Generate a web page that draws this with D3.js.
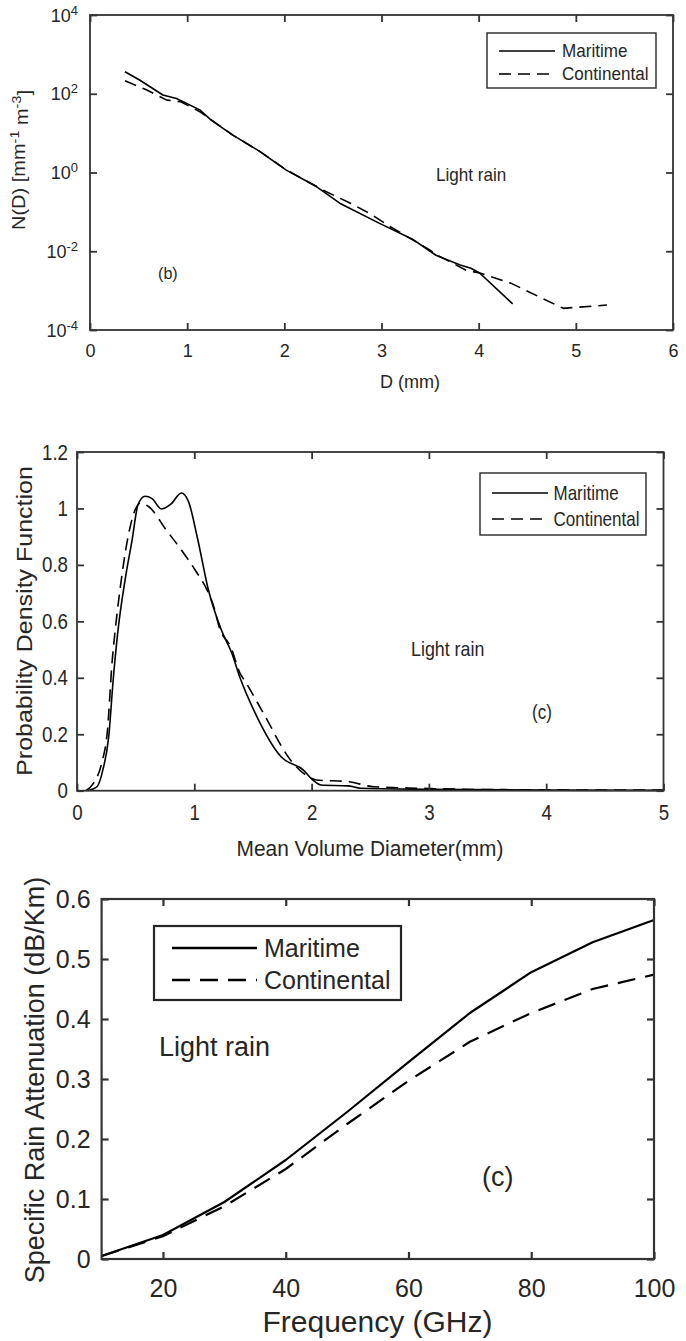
<!DOCTYPE html>
<html>
<head>
<meta charset="utf-8">
<script src="https://cdn.jsdelivr.net/npm/d3@7"></script>
<style>
  body { margin: 0; background: #fff; }
  svg text { font-family: "Liberation Sans", Arial, sans-serif; fill: #262626; }
</style>
</head>
<body>
<div id="chart"></div>
<script>
// (b) drop size distribution, light rain
var dsdDiamMar = [0.36, 0.51, 0.75, 0.89, 1.13, 1.25, 1.47, 1.75, 2.02, 2.33, 2.57, 2.98, 3.33, 3.56, 3.81, 3.92, 4.01, 4.35];
var dsdMaritime = [363, 224, 93, 76, 39, 21, 8.9, 3.4, 1.15, 0.44, 0.166, 0.051, 0.0195, 0.0079, 0.0045, 0.0037, 0.0028, 0.00046];
var dsdDiamCon = [0.36, 0.58, 0.79, 0.93, 1.13, 1.47, 1.75, 2.02, 2.40, 2.68, 2.88, 3.09, 3.50, 3.56, 3.87, 4.01, 4.33, 4.87, 4.96, 5.32];
var dsdContinental = [214, 126, 69, 63, 35, 8.9, 3.4, 1.17, 0.355, 0.166, 0.091, 0.042, 0.0107, 0.0083, 0.0033, 0.0028, 0.00155, 0.000355, 0.00037, 0.00043];
var dsdXTicks = [0, 1, 2, 3, 4, 5, 6];
var dsdYTicks = [1e-4, 1e-2, 1, 1e2, 1e4];
var dsdYExp = ["-4", "-2", "0", "2", "4"];

// (c) pdf of mean volume diameter
var pdfDiamMar = [0.09, 0.17, 0.22, 0.27, 0.31, 0.35, 0.41, 0.47, 0.52, 0.58, 0.64, 0.72, 0.80, 0.89, 0.95, 1.03, 1.12, 1.23, 1.32, 1.39, 1.52, 1.74, 1.93, 2.01, 2.08, 2.31, 2.42, 3.0, 4.0, 5.0];
var pdfMaritime = [0, 0.014, 0.073, 0.19, 0.40, 0.57, 0.747, 0.889, 1.013, 1.043, 1.035, 0.998, 1.015, 1.055, 1.025, 0.889, 0.712, 0.57, 0.487, 0.40, 0.274, 0.12, 0.073, 0.038, 0.02, 0.017, 0.0085, 0.005, 0.002, 0.001];
var pdfDiamCon = [0.075, 0.14, 0.21, 0.26, 0.30, 0.32, 0.37, 0.42, 0.49, 0.54, 0.61, 0.76, 0.89, 1.01, 1.11, 1.16, 1.22, 1.31, 1.39, 1.43, 1.59, 1.82, 1.97, 2.04, 2.31, 2.53, 2.94, 3.5, 5.0];
var pdfContinental = [0, 0.026, 0.097, 0.215, 0.46, 0.546, 0.723, 0.865, 0.989, 1.019, 1.007, 0.924, 0.853, 0.78, 0.71, 0.66, 0.57, 0.51, 0.416, 0.39, 0.274, 0.109, 0.05, 0.038, 0.032, 0.014, 0.0085, 0.004, 0.002];
var pdfXTicks = [0, 1, 2, 3, 4, 5];
var pdfYTicks = [0, 0.2, 0.4, 0.6, 0.8, 1, 1.2];

// specific rain attenuation vs frequency
var freqGHz = [10, 20, 30, 40, 50, 60, 70, 80, 90, 100];
var attMaritime = [0.005, 0.04, 0.095, 0.165, 0.245, 0.328, 0.41, 0.478, 0.528, 0.565];
var attContinental = [0.005, 0.038, 0.088, 0.15, 0.225, 0.297, 0.362, 0.41, 0.45, 0.474];
var attXTicks = [20, 40, 60, 80, 100];
var attYTicks = [0, 0.1, 0.2, 0.3, 0.4, 0.5, 0.6];

var seriesNames = ["Maritime", "Continental"];
var ink = "#262626", frameInk = "#333";

var svg = d3.select("#chart").append("svg")
    .attr("width", 686)
    .attr("height", 1341);

// text with optional horizontal squeeze (the figure is a bit narrow)
function putText(g, x, y, str, size, sx, anchor) {
  return g.append("text")
    .attr("transform", "translate(" + x + "," + y + ") scale(" + sx + ",1)")
    .attr("font-size", size)
    .attr("text-anchor", anchor || "start")
    .text(str);
}

function drawAxes(g, x, y, o) {
  var r = x.range(), b = y.range();
  // bottom
  var gb = g.append("g")
    .attr("transform", "translate(0," + b[0] + ")")
    .call(d3.axisBottom(x).tickValues(o.xTicks).tickSize(-o.tick).tickSizeOuter(0).tickPadding(o.xPad)
      .tickFormat(o.xFormat || d3.format("")));
  gb.selectAll("text").attr("font-size", o.tickFont).attr("transform", "scale(" + o.sx + ",1)").style("fill", ink);
  // left
  var gl = g.append("g")
    .attr("transform", "translate(" + r[0] + ",0)")
    .call(d3.axisLeft(y).tickValues(o.yTicks).tickSize(-o.tick).tickSizeOuter(0).tickPadding(o.yPad)
      .tickFormat(o.yFormat || d3.format("")));
  gl.selectAll("text").attr("font-size", o.tickFont)
    .attr("x", -o.yPad / o.sx)
    .attr("transform", "scale(" + o.sx + ",1)").style("fill", ink);
  // top and right, ticks only
  g.append("g").attr("transform", "translate(0," + b[1] + ")")
    .call(d3.axisTop(x).tickValues(o.xTicks).tickSize(-o.tick).tickSizeOuter(0).tickFormat(""));
  g.append("g").attr("transform", "translate(" + r[1] + ",0)")
    .call(d3.axisRight(y).tickValues(o.yTicks).tickSize(-o.tick).tickSizeOuter(0).tickFormat(""));

  g.selectAll(".domain").remove();
  g.selectAll(".tick line").style("stroke", frameInk).style("stroke-width", o.frameW);
  g.selectAll("g").attr("font-family", null);

  g.append("rect")
    .attr("x", r[0]).attr("y", b[1])
    .attr("width", r[1] - r[0]).attr("height", b[0] - b[1])
    .style("fill", "none")
    .style("stroke", frameInk)
    .style("stroke-width", o.frameW);
  return gl;
}

function drawLegend(g, o) {
  g.append("rect")
    .attr("x", o.x0).attr("y", o.y0)
    .attr("width", o.x1 - o.x0).attr("height", o.y1 - o.y0)
    .style("fill", "#fff")
    .style("stroke", ink)
    .style("stroke-width", o.boxW);
  seriesNames.forEach(function(name, i) {
    g.append("line")
      .attr("x1", o.lx0).attr("x2", o.lx1)
      .attr("y1", o.rows[i]).attr("y2", o.rows[i])
      .style("stroke", "#000")
      .style("stroke-width", o.lineW)
      .style("stroke-dasharray", i === 1 ? o.dash : null);
    putText(g, o.tx, o.rows[i] + o.font * 0.36, name, o.font, o.sx);
  });
}

function drawSeries(g, xs, ys, x, y, width, dash, curve) {
  var pts = xs.map(function(d, i) { return [d, ys[i]]; });
  var line = d3.line()
    .x(function(d) { return x(d[0]); })
    .y(function(d) { return y(d[1]); })
    .curve(curve || d3.curveLinear);
  g.append("path")
    .attr("d", line(pts))
    .style("fill", "none")
    .style("stroke", "#000")
    .style("stroke-width", width)
    .style("stroke-linejoin", "round")
    .style("stroke-dasharray", dash);
}

// ---------- panel (b) ----------
(function() {
  var sx = 0.95;
  var g = svg.append("g");
  var x = d3.scaleLinear().domain([0, 6]).range([90, 673]);
  var y = d3.scaleLog().domain([1e-4, 1e4]).range([330, 15]);

  drawSeries(g, dsdDiamMar, dsdMaritime, x, y, 1.6, null);
  drawSeries(g, dsdDiamCon, dsdContinental, x, y, 1.6, "12,7");

  var gl = drawAxes(g, x, y, {xTicks: dsdXTicks, yTicks: dsdYTicks, tick: 7, xPad: 14, yPad: 12,
    tickFont: 19, sx: sx, frameW: 1.8, yFormat: function() { return ""; }});
  // powers of ten
  gl.selectAll(".tick text").each(function(d, i) {
    var t = d3.select(this);
    t.text("10");
    t.append("tspan").attr("dy", "-0.5em").attr("font-size", "0.72em").text(dsdYExp[i]);
  });

  putText(g, 410, 388, "D (mm)", 19, sx, "middle");
  var yl = g.append("text")
    .attr("transform", "translate(25,160) scale(0.9,1) rotate(-90)")
    .attr("font-size", 20)
    .attr("text-anchor", "middle");
  yl.append("tspan").text("N(D) [mm");
  yl.append("tspan").attr("dy", "-0.5em").attr("font-size", "0.72em").text("-1");
  yl.append("tspan").attr("dy", "0.5em").text(" m");
  yl.append("tspan").attr("dy", "-0.5em").attr("font-size", "0.72em").text("-3");
  yl.append("tspan").attr("dy", "0.5em").text("]");

  putText(g, 436, 181, "Light rain", 18, sx);
  putText(g, 158, 279, "(b)", 17, sx);

  drawLegend(g, {x0: 487, x1: 656, y0: 33, y1: 88, lx0: 499, lx1: 555, tx: 562,
    rows: [51, 74], font: 18, sx: sx, lineW: 1.6, boxW: 1.4, dash: "12,7"});
})();

// ---------- panel (c) pdf ----------
(function() {
  var sx = 0.85;
  var g = svg.append("g");
  var x = d3.scaleLinear().domain([0, 5]).range([77, 663.5]);
  var y = d3.scaleLinear().domain([0, 1.2]).range([790.7, 452]);

  drawSeries(g, pdfDiamMar, pdfMaritime, x, y, 1.6, null, d3.curveMonotoneX);
  drawSeries(g, pdfDiamCon, pdfContinental, x, y, 1.6, "12,7", d3.curveMonotoneX);

  drawAxes(g, x, y, {xTicks: pdfXTicks, yTicks: pdfYTicks, tick: 7, xPad: 14, yPad: 9,
    tickFont: 22, sx: sx, frameW: 1.8, yFormat: d3.format("")});

  putText(g, 370, 856, "Mean Volume Diameter(mm)", 22, 0.95, "middle");
  g.append("text")
    .attr("transform", "translate(32,621) scale(" + sx + ",1) rotate(-90)")
    .attr("font-size", 25)
    .attr("text-anchor", "middle")
    .text("Probability Density Function");

  putText(g, 411, 656, "Light rain", 21, sx);
  putText(g, 532, 719, "(c)", 20, sx);

  drawLegend(g, {x0: 480, x1: 646, y0: 473, y1: 535, lx0: 492, lx1: 548, tx: 553.5,
    rows: [493, 519], font: 20, sx: sx, lineW: 1.6, boxW: 1.4, dash: "12,7"});
})();

// ---------- attenuation panel ----------
(function() {
  var sx = 1;
  var g = svg.append("g");
  var x = d3.scaleLinear().domain([10, 100]).range([101.6, 654]);
  var y = d3.scaleLinear().domain([0, 0.6]).range([1259, 899]);

  drawSeries(g, freqGHz, attMaritime, x, y, 2.2, null);
  drawSeries(g, freqGHz, attContinental, x, y, 2.2, "18,10");

  drawAxes(g, x, y, {xTicks: attXTicks, yTicks: attYTicks, tick: 7, xPad: 20, yPad: 11,
    tickFont: 25, sx: sx, frameW: 2.2, yFormat: d3.format("")});

  putText(g, 377.5, 1332, "Frequency (GHz)", 30, sx, "middle");
  g.append("text")
    .attr("transform", "translate(44,1080) rotate(-90)")
    .attr("font-size", 27)
    .attr("text-anchor", "middle")
    .text("Specific Rain Attenuation (dB/Km)");

  putText(g, 159, 1056, "Light rain", 27, sx);
  putText(g, 482, 1186, "(c)", 27, sx);

  drawLegend(g, {x0: 154, x1: 401, y0: 926, y1: 1000, lx0: 172, lx1: 257, tx: 264,
    rows: [948, 980], font: 25, sx: sx, lineW: 2.4, boxW: 2.2, dash: "18,10"});
})();
</script>
</body>
</html>
